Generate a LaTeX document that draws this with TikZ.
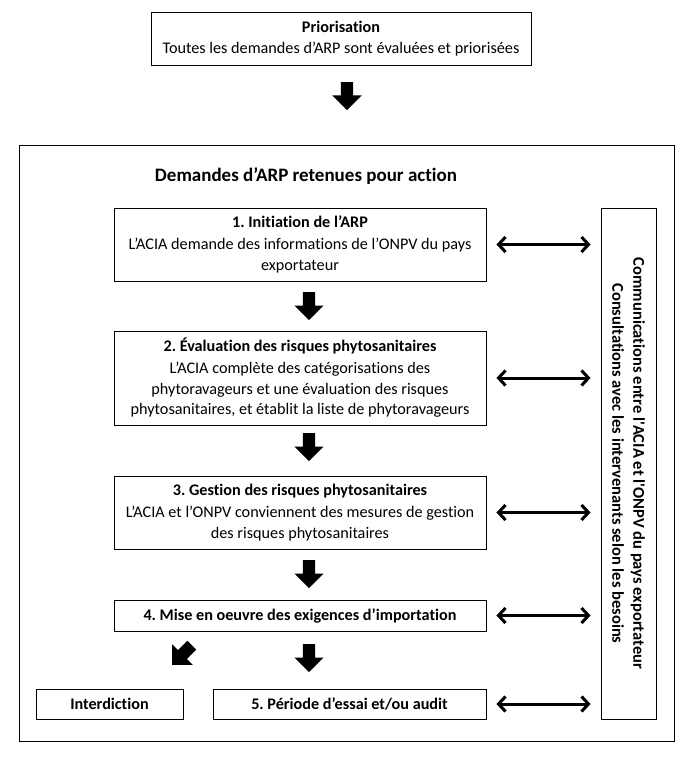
\documentclass[tikz,border=0pt]{standalone}
\usepackage{fontspec}
\setmainfont{Carlito}[Ligatures={TeX,NoCommon}]
\frenchspacing
\usetikzlibrary{arrows.meta,shapes.arrows,positioning}
\tikzset{
  stepbox/.style={draw, line width=0.9pt, align=center, inner sep=2pt,
    font=\fontsize{16.2}{20.5}\selectfont},
  blockarrow/.style={single arrow, fill=black, draw=none, inner xsep=0pt, inner ysep=6pt,
    single arrow head extend=8.5pt, minimum height=28pt},
  twoway/.style={line width=3pt,
    {Straight Barb[length=7pt,width=15pt]}-{Straight Barb[length=7pt,width=15pt]}},
}
\begin{document}
\begin{tikzpicture}[x=1pt,y=-1pt]
  \useasboundingbox (0,0) rectangle (694,760);

  % priorisation
  \node[stepbox, minimum width=380pt, minimum height=53pt] at (341,38.5) (prio)
    {\textbf{Priorisation}\\[1pt] Toutes les demandes d’ARP sont évaluées et priorisées};
  \node[blockarrow, rotate=-90, anchor=tail] at (347,82) (a0) {};

  % frame of the retained requests
  \draw[line width=0.9pt] (19,145) rectangle (674,741);
  \node[font=\bfseries\fontsize{19}{22}\selectfont] at (306,176) (retenues)
    {Demandes d’ARP retenues pour action};

  % steps
  \node[stepbox, minimum width=372pt, minimum height=73pt] at (300,244.5) (s1)
    {\textbf{1. Initiation de l’ARP}\\[1.5pt] L’ACIA demande des informations de l’ONPV du pays\\ exportateur};
  \node[stepbox, minimum width=372pt, minimum height=94pt] at (300,378) (s2)
    {\textbf{2. Évaluation des risques phytosanitaires}\\[1.5pt] L’ACIA complète des catégorisations des\\ phytoravageurs et une évaluation des risques\\ phytosanitaires, et établit la liste de phytoravageurs};
  \node[stepbox, minimum width=372pt, minimum height=73pt] at (300,512.5) (s3)
    {\textbf{3. Gestion des risques phytosanitaires}\\[1.5pt] L’ACIA et l’ONPV conviennent des mesures de gestion\\ des risques phytosanitaires};
  \node[stepbox, minimum width=372pt, minimum height=31pt] at (300,615.5) (s4)
    {\textbf{4. Mise en oeuvre des exigences d’importation}};
  \node[stepbox, minimum width=273pt, minimum height=30pt] at (349.5,704) (s5)
    {\textbf{5. Période d’essai et/ou audit}};
  \node[stepbox, minimum width=147pt, minimum height=30pt] at (109.5,704) (stop)
    {\textbf{Interdiction}};

  % arrows between the steps
  \node[blockarrow, rotate=-90, anchor=tail] at (309,292) (a1) {};
  \node[blockarrow, rotate=-90, anchor=tail] at (309,433) (a2) {};
  \node[blockarrow, rotate=-90, anchor=tail] at (309,560) (a3) {};
  \node[blockarrow, rotate=-90, anchor=tail] at (309,644) (a4) {};
  \node[blockarrow, rotate=-135, anchor=tail] at (192,645) (a5) {};

  % communications
  \node[stepbox, minimum width=55pt, minimum height=511pt] at (628.5,463.5) (comm) {};
  \node[rotate=-90, align=center, font=\bfseries\fontsize{16.5}{21}\selectfont] at (comm.center)
    {Communications entre l\textquotesingle ACIA et l\textquotesingle ONPV du pays exportateur\\
     Consultations avec les intervenants selon les besoins};

  \foreach \s in {s1,s2,s3,s4,s5}
    \draw[twoway] ([xshift=10pt]\s.east) -- ([xshift=-10pt]\s.east -| comm.west);
\end{tikzpicture}
\end{document}
